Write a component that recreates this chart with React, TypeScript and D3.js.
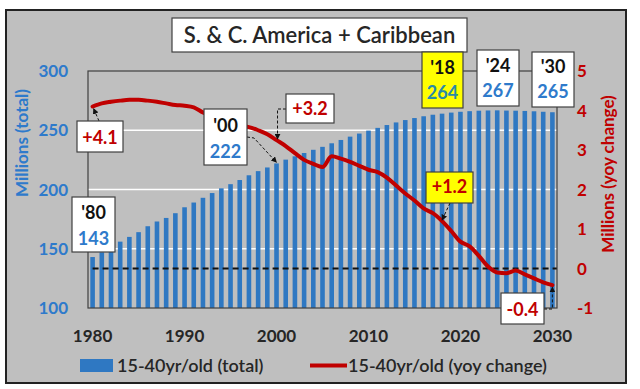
import React from 'react';
import * as d3 from 'd3';

// years on the x axis
const years = d3.range(1980, 2031);

// 15-40yr/old population, millions (left axis)
const totals = [
  143, 147, 152, 156, 160, 164, 169, 173, 176, 180,
  185, 189, 193, 197, 201, 204.5, 208, 212, 215.5, 218.6,
  222, 225.2, 228, 230.8, 233.5, 236, 239, 241.8, 244.6, 247.2,
  249.7, 252, 254.4, 256.6, 258.6, 260.3, 261.8, 263.1, 264, 264.9,
  265.6, 266.1, 266.5, 266.7, 266.8, 266.6, 266.5, 266.3, 266, 265.6,
  265.2
];

// yoy change, millions (right axis)
const yoy = [
  4.1, 4.18, 4.22, 4.25, 4.27, 4.27, 4.25, 4.22, 4.18, 4.14,
  4.12, 4.08, 3.95, 3.85, 3.78, 3.7, 3.62, 3.58, 3.5, 3.4,
  3.25, 3.1, 2.92, 2.75, 2.65, 2.57, 2.84, 2.78, 2.7, 2.6,
  2.5, 2.44, 2.3, 2.1, 1.9, 1.72, 1.52, 1.4, 1.2, 0.95,
  0.68, 0.56, 0.32, 0.05, -0.1, -0.12, -0.05, -0.15, -0.25, -0.35,
  -0.42
];

const xTicks = [1980, 1990, 2000, 2010, 2020, 2030];
const leftTicks = [100, 150, 200, 250, 300];
const rightTicks = [-1, 0, 1, 2, 3, 4, 5];
const gridTicks = [150, 200, 250];

const title = 'S. & C. America + Caribbean';
const legendBar = '15-40yr/old (total)';
const legendLine = '15-40yr/old (yoy change)';

const FONT = "Lato, 'Open Sans', sans-serif";
const GRAY_BG = '#bfbfbf';
const BLUE = '#2f78c2';
const BLUE_TXT = '#2e7acb';
const RED = '#c00000';
const DARK = '#262626';

const plot = { left: 88, right: 557, top: 71, bottom: 308 };

export default function App() {
  const x = d3
    .scaleBand<number>()
    .domain(years)
    .range([plot.left, plot.right])
    .paddingInner(0.5)
    .paddingOuter(0.25);
  const bw = x.bandwidth();
  const cx = (yr: number) => (x(yr) as number) + bw / 2;

  const yL = d3.scaleLinear().domain([100, 300]).range([plot.bottom, plot.top]);
  const yR = d3.scaleLinear().domain([-1, 5]).range([plot.bottom, plot.top]);

  const line = d3
    .line<number>()
    .x((_, i) => cx(years[i]))
    .y(d => yR(d))
    .curve(d3.curveMonotoneX);

  const idx = (yr: number) => years.indexOf(yr);

  // anchor points for the callouts, from the scales
  const p1980 = [cx(1980), yR(yoy[idx(1980)])];
  const p2000bar = [cx(2000), yL(totals[idx(2000)])];
  const p2000line = [cx(2000), yR(yoy[idx(2000)])];
  const p2018 = [cx(2018), yR(yoy[idx(2018)])];
  const p2030 = [cx(2030), yR(yoy[idx(2030)])];

  const dash = '3,2';

  const box = (
    bx: number, by: number, w: number, h: number,
    fill = 'white'
  ) => <rect x={bx} y={by} width={w} height={h} fill={fill} stroke="#404040" strokeWidth={1.2} />;

  return (
    <svg width={640} height={389} style={{ display: 'block', fontFamily: FONT }}>
      <style>{'body{margin:0}'}</style>
      <defs>
        <marker id="ah" viewBox="0 0 10 10" refX="9" refY="5" markerWidth="6" markerHeight="6" orient="auto-start-reverse">
          <path d="M0,0 L10,5 L0,10 z" fill="#111" />
        </marker>
      </defs>
      <rect x={0} y={0} width={640} height={389} fill="white" />
      <rect x={6} y={10} width={620} height={373} fill={GRAY_BG} stroke="#222" strokeWidth={2} />

      {/* gridlines */}
      {gridTicks.map(t => (
        <line key={t} x1={plot.left} x2={plot.right} y1={yL(t)} y2={yL(t)} stroke="white" strokeWidth={1.5} />
      ))}

      {/* bars */}
      {totals.map((v, i) => (
        <rect key={years[i]} x={x(years[i])} y={yL(v)} width={bw} height={plot.bottom - yL(v)} fill={BLUE} />
      ))}

      {/* zero line */}
      <line x1={cx(1980)} x2={plot.right} y1={yR(0)} y2={yR(0)} stroke="#111" strokeWidth={2} strokeDasharray="6,4" />

      {/* plot frame */}
      <rect x={plot.left} y={plot.top} width={plot.right - plot.left} height={plot.bottom - plot.top} fill="none" stroke="#404040" strokeWidth={1.2} />

      {/* yoy line */}
      <path d={line(yoy) || ''} fill="none" stroke={RED} strokeWidth={4} strokeLinejoin="round" strokeLinecap="round" />

      {/* left axis */}
      {leftTicks.map(t => (
        <text key={t} x={68} y={yL(t)} dy="0.36em" textAnchor="end" fontSize={17} fontWeight="bold" fill={BLUE_TXT}>{t}</text>
      ))}
      <text transform="translate(28,143) rotate(-90)" textAnchor="middle" fontSize={17} fontWeight="bold" fill={BLUE_TXT}>Millions (total)</text>

      {/* right axis */}
      {rightTicks.map(t => (
        <text key={t} x={577} y={yR(t)} dy="0.36em" textAnchor="start" fontSize={17} fontWeight="bold" fill={RED}>{t}</text>
      ))}
      <text transform="translate(614,174) rotate(-90)" textAnchor="middle" fontSize={17} fontWeight="bold" fill={RED}>Millions (yoy change)</text>

      {/* x axis */}
      {xTicks.map(t => (
        <text key={t} x={cx(t)} y={342} textAnchor="middle" fontSize={17} fontWeight="bold" fill={DARK}>{t}</text>
      ))}

      {/* title */}
      {box(172, 18, 295, 34)}
      <text x={319.5} y={43} textAnchor="middle" fontSize={22} fontWeight={600} fill={DARK}>{title}</text>

      {/* callout arrows */}
      <g fill="none" stroke="#111" strokeWidth={1} strokeDasharray={dash}>
        <polyline points={`99,121 ${p1980[0] + 1},${p1980[1] + 2}`} markerEnd="url(#ah)" />
        <polyline points={`247,137 254,138 ${p2000bar[0]},${p2000bar[1] - 1}`} markerEnd="url(#ah)" />
        <polyline points={`286,109 ${p2000line[0] + 1},109 ${p2000line[0] + 1},${p2000line[1] - 1}`} markerEnd="url(#ah)" />
        <polyline points={`450,203 ${p2018[0]},${p2018[1] - 1}`} markerEnd="url(#ah)" />
        <polyline points={`544,309 ${p2030[0]},309 ${p2030[0]},${p2030[1] + 2}`} markerEnd="url(#ah)" />
      </g>

      {/* callout boxes */}
      {box(72, 197, 43, 55)}
      <text x={93.5} y={219} textAnchor="middle" fontSize={18} fontWeight="bold" fill="#111">'80</text>
      <text x={93.5} y={245} textAnchor="middle" fontSize={18} fontWeight="bold" fill={BLUE_TXT}>143</text>

      {box(77, 121, 46, 31)}
      <text x={100} y={144} textAnchor="middle" fontSize={18} fontWeight="bold" fill={RED}>+4.1</text>

      {box(204, 109, 43, 56)}
      <text x={225.5} y={131.5} textAnchor="middle" fontSize={18} fontWeight="bold" fill="#111">'00</text>
      <text x={225.5} y={158} textAnchor="middle" fontSize={18} fontWeight="bold" fill={BLUE_TXT}>222</text>

      {box(286, 94, 48, 29)}
      <text x={310} y={115} textAnchor="middle" fontSize={18} fontWeight="bold" fill={RED}>+3.2</text>

      {box(422, 52, 41, 56, '#ffff00')}
      <text x={442.5} y={74} textAnchor="middle" fontSize={18} fontWeight="bold" fill="#111">'18</text>
      <text x={442.5} y={99} textAnchor="middle" fontSize={18} fontWeight="bold" fill="#2a8aa8">264</text>

      {box(477, 50, 42, 56)}
      <text x={498} y={72} textAnchor="middle" fontSize={18} fontWeight="bold" fill="#111">'24</text>
      <text x={498} y={97} textAnchor="middle" fontSize={18} fontWeight="bold" fill={BLUE_TXT}>267</text>

      {box(532, 52, 42, 55)}
      <text x={553} y={73} textAnchor="middle" fontSize={18} fontWeight="bold" fill="#111">'30</text>
      <text x={553} y={98} textAnchor="middle" fontSize={18} fontWeight="bold" fill={BLUE_TXT}>265</text>

      {box(426, 172, 47, 31, '#ffff00')}
      <text x={449.5} y={193} textAnchor="middle" fontSize={18} fontWeight="bold" fill={RED}>+1.2</text>

      {box(501, 293, 43, 31)}
      <text x={522.5} y={316} textAnchor="middle" fontSize={18} fontWeight="bold" fill={RED}>-0.4</text>

      {/* legend */}
      <rect x={80} y={359} width={33} height={13} fill={BLUE} />
      <text x={117} y={372} fontSize={18} fontWeight={600} fill={DARK}>{legendBar}</text>
      <line x1={310} x2={347} y1={365.5} y2={365.5} stroke={RED} strokeWidth={4} />
      <text x={348} y={372} fontSize={18} fontWeight={600} fill={DARK}>{legendLine}</text>
    </svg>
  );
}
